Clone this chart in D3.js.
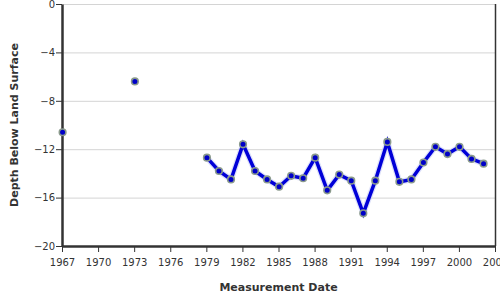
<!DOCTYPE html>
<html>
<head>
<meta charset="utf-8">
<script src="https://cdn.jsdelivr.net/npm/d3@7"></script>
<style>
  body { margin: 0; background: #fff; }
  svg { display: block; font-family: "DejaVu Sans", Verdana, sans-serif; }
</style>
</head>
<body>
<div id="chart"></div>
<script>
// measurement dates (decimal years) and depth below land surface (ft)
var isolatedDates = [1967.05, 1973.06];
var isolatedDepths = [-10.6, -6.4];
var seriesDates = [1979.05, 1980.05, 1981.05, 1982.05, 1983.05, 1984.05, 1985.05, 1986.05,
    1987.05, 1988.05, 1989.05, 1990.05, 1991.05, 1992.05, 1993.05, 1994.05, 1995.05,
    1996.05, 1997.05, 1998.05, 1999.05, 2000.05, 2001.05, 2002.05];
var seriesDepths = [-12.7, -13.8, -14.5, -11.6, -13.8, -14.5, -15.1, -14.2,
    -14.4, -12.7, -15.4, -14.1, -14.6, -17.3, -14.6, -11.4, -14.7,
    -14.5, -13.1, -11.8, -12.4, -11.8, -12.8, -13.2];
var xTicks = [1967, 1970, 1973, 1976, 1979, 1982, 1985, 1988, 1991, 1994, 1997, 2000, 2003];
var yTicks = [0, -4, -8, -12, -16, -20];

(function(){
    "use strict";
    var width = 500, height = 300;
    var margin = {top: 4, right: 5, bottom: 54, left: 62};

    var svg = d3.select('#chart').append('svg')
        .attr('width', width)
        .attr('height', height);

    var x = d3.scaleLinear().domain([1967, 2003]).range([margin.left, width - margin.right]);
    var y = d3.scaleLinear().domain([-20, 0]).range([height - margin.bottom, margin.top]);

    //gridlines
    svg.append('g').selectAll('line')
        .data(yTicks.filter(function(d){ return d !== -20; }))
        .enter().append('line')
        .attr('x1', margin.left).attr('x2', width - margin.right)
        .attr('y1', function(d){ return y(d) + 0.5; })
        .attr('y2', function(d){ return y(d) + 0.5; })
        .attr('stroke', '#d4d4d4');

    //right border
    svg.append('line')
        .attr('x1', width - margin.right + 0.5).attr('x2', width - margin.right + 0.5)
        .attr('y1', margin.top).attr('y2', height - margin.bottom)
        .attr('stroke', '#333').attr('stroke-width', 1.5);

    //axes
    var yAxis = svg.append('g')
        .attr('transform', 'translate(' + margin.left + ',0)')
        .call(d3.axisLeft(y).tickValues(yTicks).tickSize(6).tickSizeOuter(0));
    var xAxis = svg.append('g')
        .attr('transform', 'translate(0,' + (height - margin.bottom) + ')')
        .call(d3.axisBottom(x).tickValues(xTicks).tickFormat(d3.format('d')).tickSize(6).tickSizeOuter(0));

    [xAxis, yAxis].forEach(function(g){
        g.select('.domain').attr('stroke', '#333').attr('stroke-width', 2.5);
        g.selectAll('.tick line').attr('stroke', '#333');
        g.selectAll('.tick text')
            .attr('fill', '#333')
            .style('font-size', '10px')
            .style('font-family', '"DejaVu Sans", Verdana, sans-serif');
    });
    xAxis.selectAll('.tick text').attr('dy', '1.05em');
    yAxis.selectAll('.tick text').attr('x', -7);

    //axis titles
    svg.append('text')
        .attr('x', (margin.left + width - margin.right) / 2)
        .attr('y', 291)
        .attr('text-anchor', 'middle')
        .attr('fill', '#333')
        .style('font-size', '11px').style('font-weight', 'bold')
        .text('Measurement Date');
    svg.append('text')
        .attr('transform', 'translate(18,' + ((margin.top + height - margin.bottom) / 2) + ') rotate(-90)')
        .attr('text-anchor', 'middle')
        .attr('fill', '#333')
        .style('font-size', '11px').style('font-weight', 'bold')
        .text('Depth Below Land Surface');

    //line
    var series = seriesDates.map(function(d, i){ return {date: d, depth: seriesDepths[i]}; });
    var lone = isolatedDates.map(function(d, i){ return {date: d, depth: isolatedDepths[i]}; });
    var line = d3.line()
        .x(function(d){ return x(d.date); })
        .y(function(d){ return y(d.depth); });

    svg.append('path')
        .datum(series)
        .attr('d', line)
        .attr('fill', 'none')
        .attr('stroke', '#c8cdf5')
        .attr('stroke-width', 6)
        .attr('stroke-linejoin', 'round')
        .attr('opacity', 0.6);
    svg.append('path')
        .datum(series)
        .attr('d', line)
        .attr('fill', 'none')
        .attr('stroke', '#0000d8')
        .attr('stroke-width', 3.5)
        .attr('stroke-linejoin', 'miter');

    //markers
    svg.append('g').selectAll('circle')
        .data(lone.concat(series))
        .enter().append('circle')
        .attr('cx', function(d){ return x(d.date); })
        .attr('cy', function(d){ return y(d.depth); })
        .attr('r', 3.3)
        .attr('fill', '#0000c8')
        .attr('stroke', '#8a9a8c')
        .attr('stroke-width', 1.6);
})();
</script>
</body>
</html>
